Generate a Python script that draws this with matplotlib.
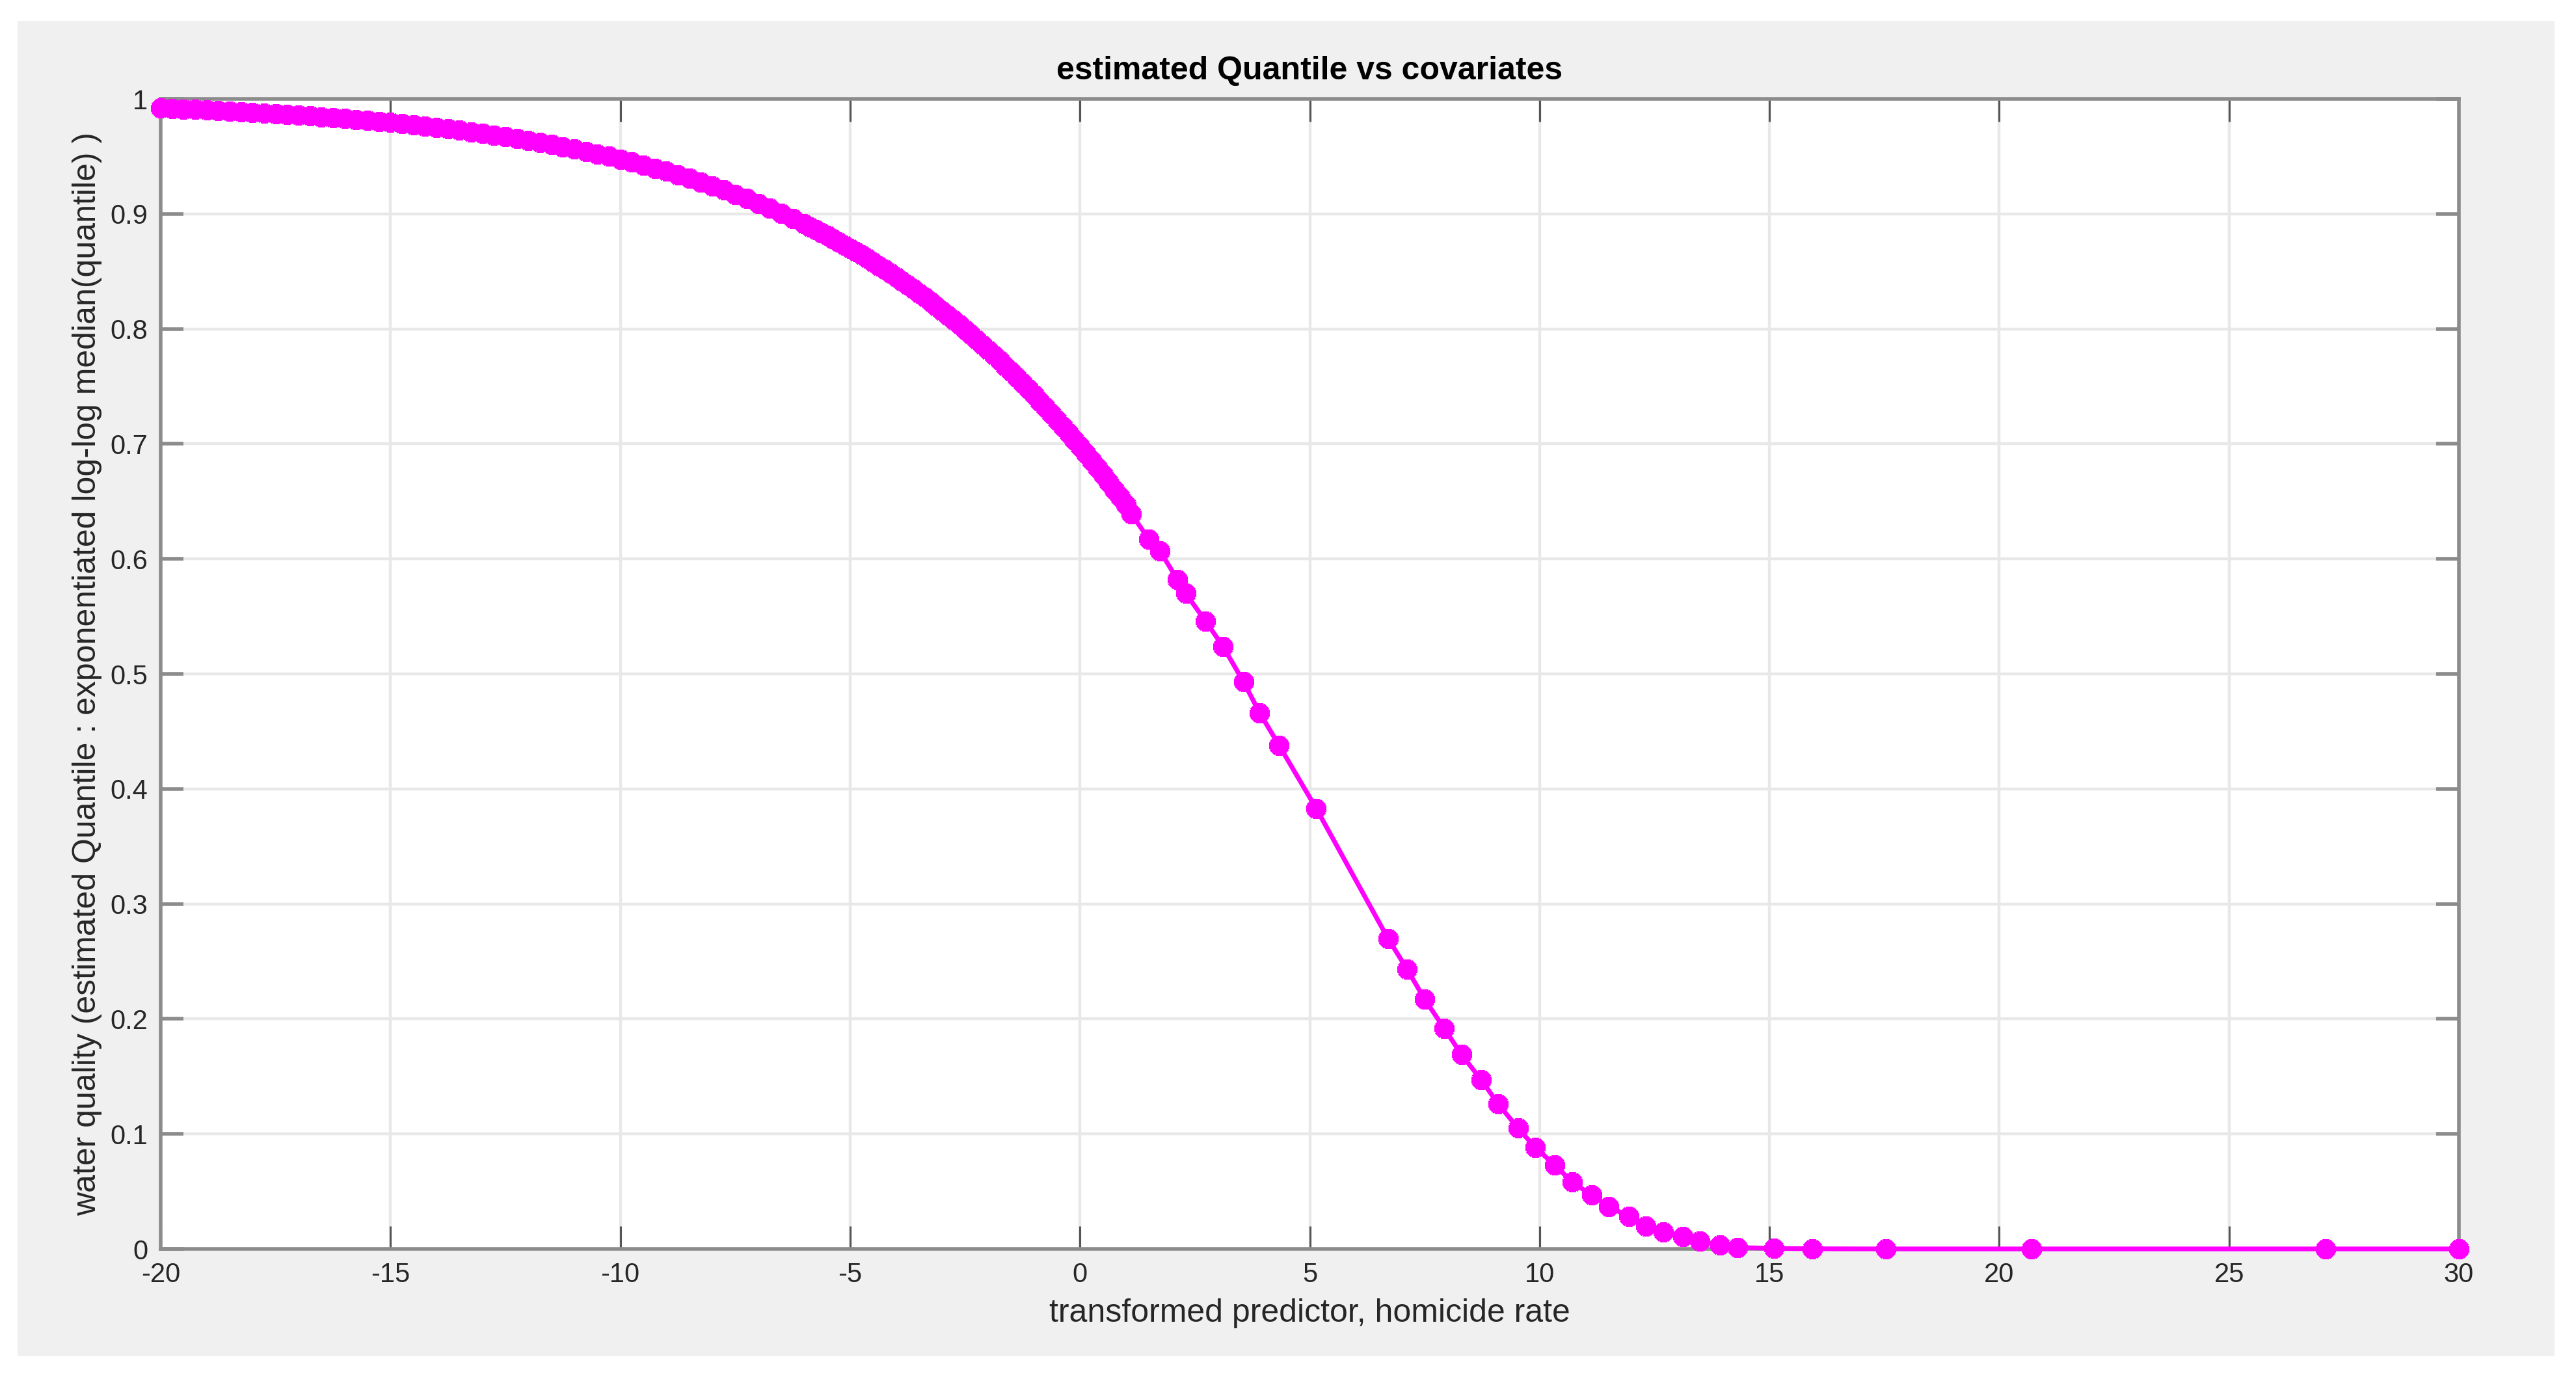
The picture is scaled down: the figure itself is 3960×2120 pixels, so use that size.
import matplotlib
matplotlib.use("Agg")
import matplotlib.pyplot as plt
from matplotlib.patches import Rectangle

plt.rcParams['font.family'] = ['Liberation Sans', 'DejaVu Sans']
plt.rcParams['axes.unicode_minus'] = False

# ---- data ----
x_dense = [-20.00, -19.75, -19.50, -19.25, -19.00, -18.75, -18.50, -18.25,
           -18.00, -17.75, -17.50, -17.25, -17.00, -16.75, -16.50, -16.25,
           -16.00, -15.75, -15.50, -15.25, -15.00, -14.75, -14.50, -14.25,
           -14.00, -13.75, -13.50, -13.25, -13.00, -12.75, -12.50, -12.25,
           -12.00, -11.75, -11.50, -11.25, -11.00, -10.75, -10.50, -10.25,
           -10.00, -9.75, -9.50, -9.25, -9.00, -8.75, -8.50, -8.25,
           -8.00, -7.75, -7.50, -7.25, -7.00, -6.75, -6.50, -6.25,
           -6.00, -5.75, -5.50, -5.25, -5.00, -4.75, -4.50, -4.25,
           -4.00, -3.75, -3.50, -3.25, -3.00, -2.75, -2.50, -2.25,
           -2.00, -1.75, -1.50, -1.25, -1.00, -0.75, -0.50, -0.25,
           0.00, 0.25, 0.50, 0.75]
y_dense = [0.9919, 0.9915, 0.9911, 0.9907, 0.9902, 0.9898, 0.9893, 0.9888,
           0.9883, 0.9877, 0.9871, 0.9865, 0.9858, 0.9851, 0.9844, 0.9836,
           0.9829, 0.9821, 0.9813, 0.9804, 0.9794, 0.9784, 0.9774, 0.9763,
           0.9751, 0.9739, 0.9727, 0.9714, 0.9700, 0.9685, 0.9670, 0.9654,
           0.9639, 0.9621, 0.9603, 0.9584, 0.9565, 0.9544, 0.9522, 0.9500,
           0.9475, 0.9450, 0.9425, 0.9397, 0.9370, 0.9340, 0.9309, 0.9277,
           0.9243, 0.9208, 0.9171, 0.9132, 0.9092, 0.9050, 0.9006, 0.8960,
           0.8913, 0.8863, 0.8811, 0.8757, 0.8701, 0.8642, 0.8581, 0.8517,
           0.8450, 0.8381, 0.8309, 0.8235, 0.8158, 0.8077, 0.7994, 0.7907,
           0.7818, 0.7725, 0.7628, 0.7528, 0.7425, 0.7318, 0.7208, 0.7094,
           0.6977, 0.6856, 0.6731, 0.6603]
# extra points where the markers are packed tightest (-6 .. 1)
x_packed = [-5.875, -5.625, -5.375, -5.125, -4.875, -4.625, -4.375, -4.125,
            -3.875, -3.625, -3.375, -3.125, -2.875, -2.625, -2.375, -2.125,
            -1.875, -1.625, -1.375, -1.125, -0.875, -0.625, -0.375, -0.125,
            0.125, 0.375, 0.625, 0.875, 1.00]
y_packed = [0.8888, 0.8837, 0.8784, 0.8729, 0.8672, 0.8612, 0.8549, 0.8484,
            0.8416, 0.8346, 0.8273, 0.8197, 0.8118, 0.8036, 0.7951, 0.7863,
            0.7772, 0.7677, 0.7579, 0.7477, 0.7372, 0.7264, 0.7152, 0.7036,
            0.6917, 0.6794, 0.6667, 0.6537, 0.6471]
x_sparse = [1.12, 1.50, 1.74, 2.12, 2.30, 2.73, 3.11, 3.56, 3.91, 4.33,
            5.14, 6.70, 7.12, 7.50, 7.92, 8.30, 8.73, 9.10, 9.53, 9.91,
            10.33, 10.71, 11.13, 11.51, 11.94, 12.31, 12.69, 13.12, 13.49,
            13.92, 14.30, 15.10, 15.93, 17.53, 20.70, 27.10, 30.00]
y_sparse = [0.639, 0.617, 0.607, 0.582, 0.570, 0.546, 0.524, 0.493, 0.466,
            0.438, 0.383, 0.270, 0.243, 0.217, 0.192, 0.169, 0.147, 0.126,
            0.105, 0.088, 0.073, 0.058, 0.047, 0.037, 0.028, 0.020, 0.0146,
            0.011, 0.007, 0.0032, 0.0013, 0.0004, 0.0001, 0.0, 0.0, 0.0, 0.0]

x_ticks = [-20, -15, -10, -5, 0, 5, 10, 15, 20, 25, 30]
x_tick_labels = ['-20', '-15', '-10', '-5', '0', '5', '10', '15', '20', '25', '30']
y_ticks = [0, 0.1, 0.2, 0.3, 0.4, 0.5, 0.6, 0.7, 0.8, 0.9, 1]
y_tick_labels = ['0', '0.1', '0.2', '0.3', '0.4', '0.5', '0.6', '0.7', '0.8', '0.9', '1']

title = 'estimated Quantile vs covariates'
xlabel = 'transformed predictor, homicide rate'
ylabel = 'water quality (estimated Quantile : exponentiated log-log median(quantile) )'

pairs = sorted(zip(x_dense + x_packed + x_sparse, y_dense + y_packed + y_sparse))
x_all = [p[0] for p in pairs]
y_all = [p[1] for p in pairs]

# ---- figure ----
W, H = 3960, 2120
fig = plt.figure(figsize=(W / 200, H / 200), dpi=200)
fig.patch.set_facecolor('white')
fig.add_artist(Rectangle((27 / W, 1 - 2085 / H), (3927 - 27) / W, (2085 - 32) / H,
                         transform=fig.transFigure, facecolor='#f0f0f0',
                         edgecolor='none', zorder=-10))

ax = fig.add_axes([247 / W, (H - 1920) / H, (3780 - 247) / W, (1920 - 152) / H])
ax.set_facecolor('white')

ax.plot(x_all, y_all, color='#ff00ff', lw=2.6, marker=(8, 2, 0), ms=11,
        mew=3.6, clip_on=False, zorder=3)

ax.set_xlim(-20, 30)
ax.set_ylim(0, 1)
ax.set_xticks(x_ticks)
ax.set_xticklabels(x_tick_labels)
ax.set_yticks(y_ticks)
ax.set_yticklabels(y_tick_labels)

ax.set_axisbelow(True)
ax.grid(True, color='#e8e8e8', lw=1.6)

ax.tick_params(axis='x', direction='in', length=12.6, width=1.1, color='#555555',
               top=True, bottom=True, labelsize=15, labelcolor='#262626', pad=7.2)
ax.tick_params(axis='y', direction='in', length=12.6, width=2.0, color='#8c8c8c',
               left=True, right=True, labelsize=15, labelcolor='#262626', pad=7.2)
for s in ax.spines.values():
    s.set_color('#8c8c8c')
    s.set_linewidth(2.0)

ax.set_title(title, fontsize=18, fontweight='bold', pad=10.8, color='black')
ax.set_xlabel(xlabel, fontsize=18, color='#262626')
ax.xaxis.set_label_coords(0.5, -0.043)
ax.set_ylabel(ylabel, fontsize=18, color='#262626')
ax.yaxis.set_label_coords(-0.0255, 0.5)

fig.savefig('out.png', dpi=200, facecolor='white')
